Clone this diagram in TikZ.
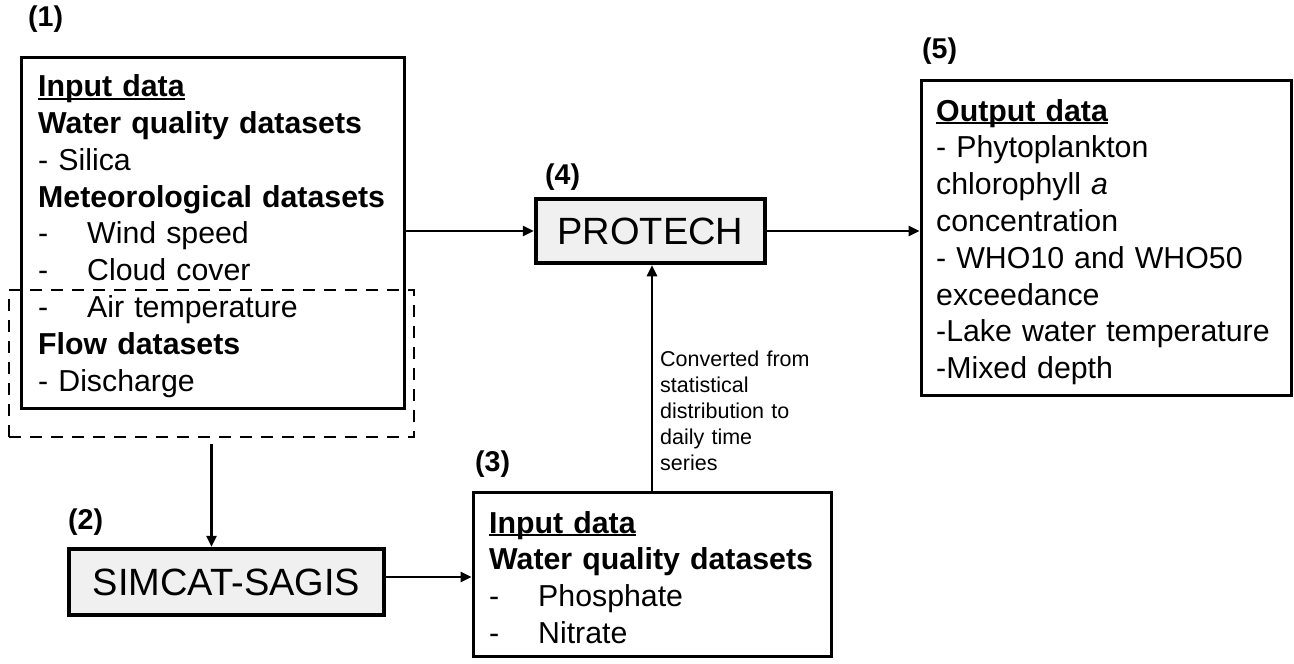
\documentclass[tikz,border=0pt]{standalone}
\usepackage{fontspec}
\setmainfont{Liberation Sans}
\usetikzlibrary{arrows.meta}
\newcommand\myul[1]{\setbox0\hbox{#1}\rlap{\rule[-3pt]{\wd0}{2pt}}\box0}
\newcommand\tabdash{\makebox[49pt][l]{-}}
\definecolor{modelgray}{HTML}{F0F0F0}
\begin{document}
\begin{tikzpicture}[x=1pt,y=-1pt,
  box/.style={draw, line width=3pt, inner sep=0pt, rectangle},
  dashbox/.style={draw, line width=2.5pt, dash pattern=on 12pt off 9pt, inner sep=0pt, rectangle},
  model/.style={draw, line width=4.5pt, fill=modelgray, inner sep=0pt, rectangle, font=\fontsize{38}{40}\selectfont},
  body/.style={inner sep=0pt, anchor=north west, align=left, text width=#1, font=\fontsize{30.3}{36.8}\selectfont},
  note/.style={inner sep=0pt, anchor=north west, align=left, text width=170pt, font=\fontsize{21.5}{26}\selectfont},
  lab/.style={inner sep=0pt, anchor=west, font=\fontsize{28.6}{30}\selectfont\bfseries},
  arr/.style={line width=2.5pt, -{Triangle[length=11pt,width=10pt]}},
]
\useasboundingbox (0,0) rectangle (1294,664);

% boxes
\node[box, minimum width=383pt, minimum height=351pt] (b1) at (212.5,232.5) {};
\node[dashbox, minimum width=405pt, minimum height=147pt] (d1) at (211.5,363.5) {};
\node[model, minimum width=315pt, minimum height=66pt] (s) at (226.5,582) {SIMCAT-SAGIS};
\node[box, minimum width=358pt, minimum height=164pt] (b3) at (652,574) {};
\node[model, minimum width=229pt, minimum height=64pt] (p) at (650.5,231) {PROTECH};
\node[box, minimum width=370pt, minimum height=315pt] (b5) at (1106,237.5) {};

% texts
\node[body=360pt] (t1) at (38,74.5) {\myul{\textbf{Input data}}\\
\textbf{Water quality datasets}\\
- Silica\\
\textbf{Meteorological datasets}\\
\tabdash Wind speed\\
\tabdash Cloud cover\\
\tabdash Air temperature\\
\textbf{Flow datasets}\\
- Discharge};

\node[body=335pt] (t3) at (489,511) {\myul{\textbf{Input data}}\\
\textbf{Water quality datasets}\\
\tabdash Phosphate\\
\tabdash Nitrate};

\node[body=350pt] (t5) at (936,99) {\myul{\textbf{Output data}}\\
- Phytoplankton\\
chlorophyll \textit{a}\\
concentration\\
- WHO10 and WHO50\\
exceedance\\
-Lake water temperature\\
-Mixed depth};

\node[note] (n1) at (660,351) {Converted from\\
statistical\\
distribution to\\
daily time\\
series};

% labels
\node[lab] (l1) at (28,19.5) {(1)};
\node[lab] (l2) at (68,522) {(2)};
\node[lab] (l3) at (475,464) {(3)};
\node[lab] (l4) at (545,177) {(4)};
\node[lab] (l5) at (922,51) {(5)};

% connectors
\draw[arr] (p.west -| b1.east) -- (p.west);
\draw[arr] (p.east) -- (p.east -| b5.west);
\draw[arr] (b3.north) -- (b3.north |- p.south);
\draw[arr, shorten <=6pt] (d1.south) -- (d1.south |- s.north);
\draw[arr] ([yshift=5pt]s.east) -- ([yshift=5pt]s.east -| b3.west);
\end{tikzpicture}
\end{document}
